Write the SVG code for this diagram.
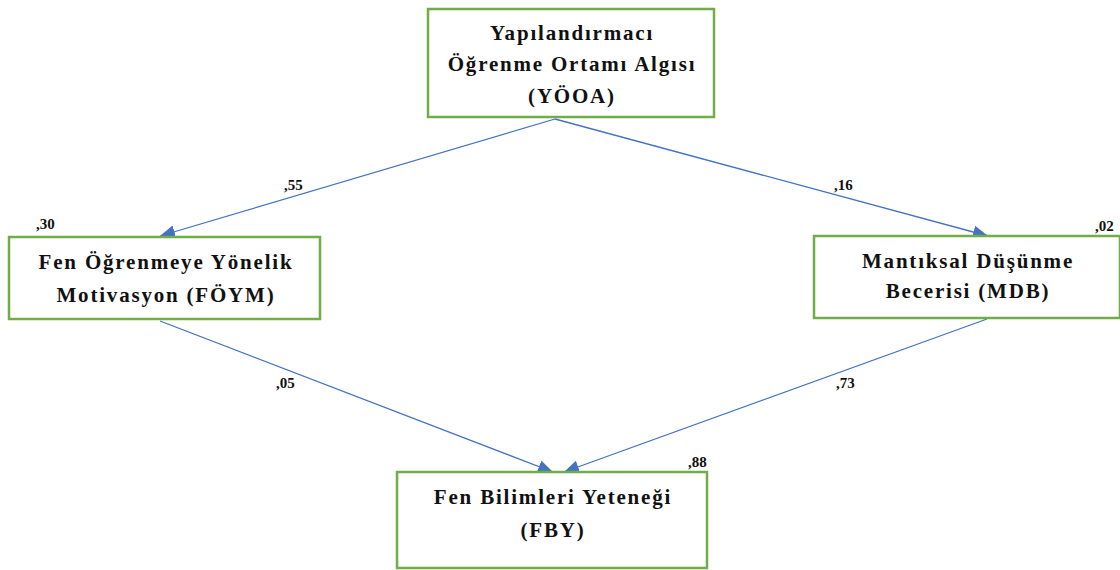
<svg xmlns="http://www.w3.org/2000/svg" width="1120" height="570" viewBox="0 0 1120 570">
  <style>
    .box { fill: #ffffff; stroke: #70AD47; stroke-width: 2.5; }
    .lbl { font-family: "Liberation Serif", "Times New Roman", serif; font-weight: bold; font-size: 21px; letter-spacing: 1.8px; fill: #111; text-anchor: middle; }
    .coef { font-family: "Liberation Serif", "Times New Roman", serif; font-weight: bold; font-size: 15px; fill: #111; }
    .path { stroke: #4472C4; stroke-width: 1.3; fill: none; marker-end: url(#arrow); }
  </style>
  <defs>
    <marker id="arrow" viewBox="0 0 15 13" refX="15" refY="6.5" markerWidth="15" markerHeight="13" markerUnits="userSpaceOnUse" orient="auto">
      <path d="M0,0 L15,6.5 L0,13 Z" fill="#4472C4"/>
    </marker>
  </defs>
  <rect width="1120" height="570" fill="#ffffff"/>

  <g id="connectors">
    <line class="path" x1="555" y1="119" x2="160" y2="236"/>
    <line class="path" x1="555" y1="119" x2="988" y2="236"/>
    <line class="path" x1="160" y1="321" x2="553" y2="472"/>
    <line class="path" x1="987" y1="319" x2="564" y2="472"/>
    <text class="coef" x="284" y="190">,55</text>
    <text class="coef" x="834" y="190">,16</text>
    <text class="coef" x="276" y="388">,05</text>
    <text class="coef" x="836" y="388">,73</text>
  </g>

  <g id="yooa">
    <rect class="box" x="428" y="9" width="286" height="108"/>
    <text class="lbl" x="572" y="40">Yapılandırmacı</text>
    <text class="lbl" x="572" y="71">Öğrenme Ortamı Algısı</text>
    <text class="lbl" x="572" y="103">(YÖOA)</text>
  </g>

  <g id="foym">
    <rect class="box" x="9" y="237" width="311" height="82"/>
    <text class="lbl" x="166" y="269">Fen Öğrenmeye Yönelik</text>
    <text class="lbl" x="166" y="302">Motivasyon (FÖYM)</text>
    <text class="coef" x="36" y="229">,30</text>
  </g>

  <g id="mdb">
    <rect class="box" x="814" y="236" width="306" height="82"/>
    <text class="lbl" x="968" y="268">Mantıksal Düşünme</text>
    <text class="lbl" x="968" y="298">Becerisi (MDB)</text>
    <text class="coef" x="1095" y="231">,02</text>
  </g>

  <g id="fby">
    <rect class="box" x="397" y="472" width="310" height="96"/>
    <text class="lbl" x="553" y="504">Fen Bilimleri Yeteneği</text>
    <text class="lbl" x="553" y="537">(FBY)</text>
    <text class="coef" x="688" y="467">,88</text>
  </g>
</svg>
